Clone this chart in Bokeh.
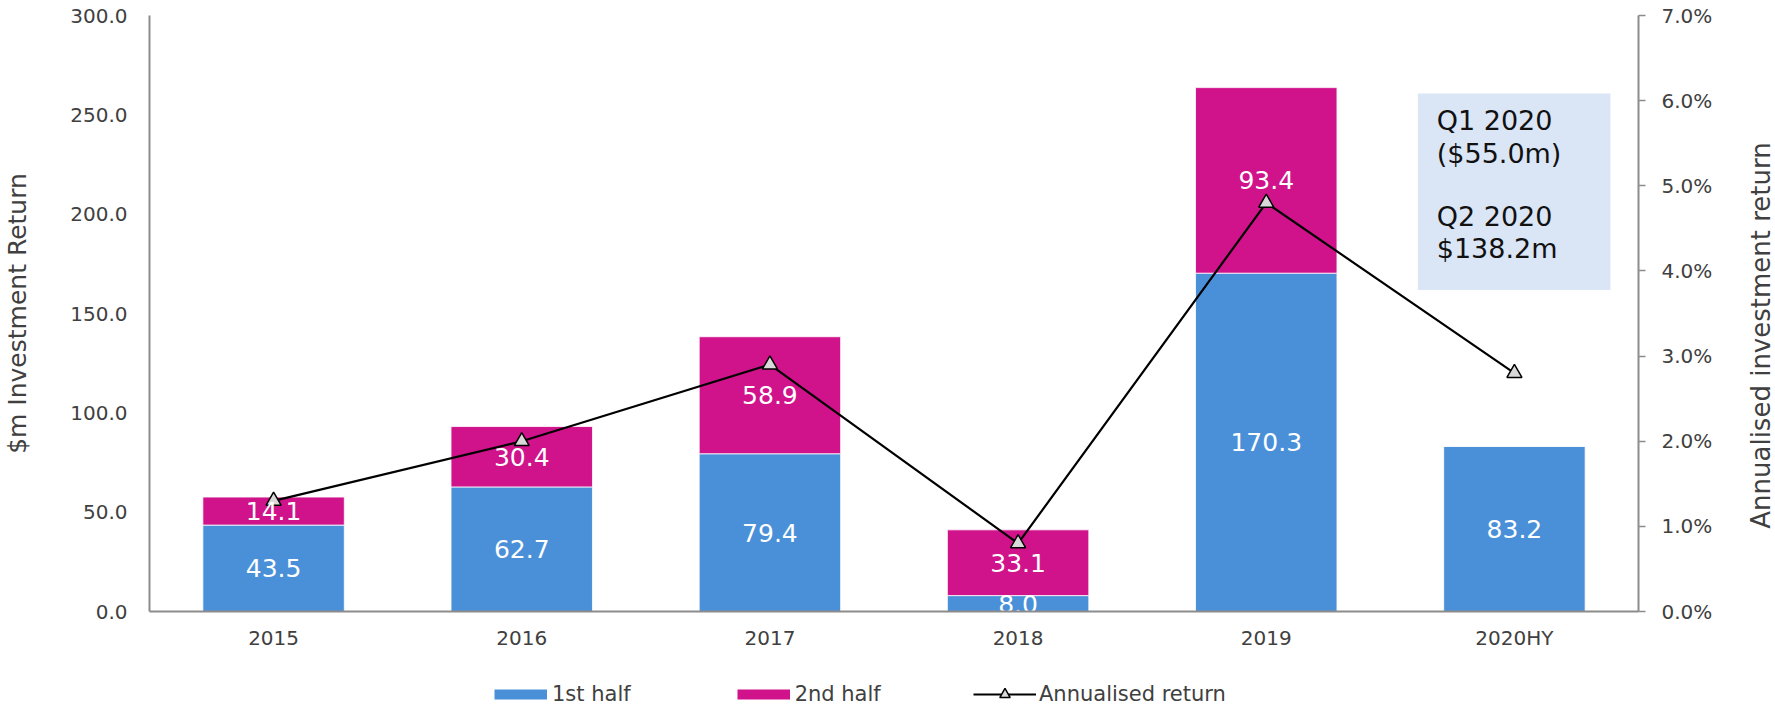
import math
from bokeh.plotting import figure
from bokeh.layouts import column, row
from bokeh.models import (FactorRange, Range1d, LinearAxis, FixedTicker,
                          NumeralTickFormatter, ColumnDataSource, Legend,
                          LegendItem, BoxAnnotation, Label)
from bokeh.core.properties import value
from bokeh.embed import file_html
from bokeh.resources import INLINE

# ---------------- data ----------------
years = ["2015", "2016", "2017", "2018", "2019", "2020HY"]
first_half = [43.5, 62.7, 79.4, 8.0, 170.3, 83.2]
second_half = [14.1, 30.4, 58.9, 33.1, 93.4, 0.0]
annualised_return = [0.013, 0.020, 0.029, 0.008, 0.048, 0.028]
series_names = ["1st half", "2nd half"]
line_name = "Annualised return"
left_title = "$m Investment Return"
right_title = "Annualised investment return"
left_ticks = [0, 50, 100, 150, 200, 250, 300]
right_ticks = [0.0, 0.01, 0.02, 0.03, 0.04, 0.05, 0.06, 0.07]
note_lines = ["Q1 2020", "($55.0m)", "Q2 2020", "$138.2m"]

# ---------------- style ----------------
FONT = "DejaVu Sans"
BLUE = "#4A90D9"
MAGENTA = "#D0128B"
AXIS_GRAY = "#8C8C8C"
TEXT_GRAY = "#404040"
MARK_FILL = "#D9D9D9"
W = 1775
PW = 1745          # main plot width
PH = 652           # main plot height


def bare(fig):
    fig.outline_line_color = None
    fig.xgrid.grid_line_color = None
    fig.ygrid.grid_line_color = None


p = figure(x_range=FactorRange(*years, range_padding=0),
           y_range=Range1d(0, 300),
           width=PW, height=PH,
           output_backend="svg", toolbar_location=None,
           min_border_left=147, min_border_right=PW - 1638,
           min_border_top=15, min_border_bottom=40)
p.extra_y_ranges = {"pct": Range1d(0, 0.07)}
bare(p)

src = ColumnDataSource(dict(year=years, first=first_half, second=second_half,
                            ret=annualised_return))

bars = p.vbar_stack(["first", "second"], x="year", width=0.57,
                    color=[BLUE, MAGENTA], line_color="white", line_width=0.8,
                    source=src)

line_r = p.line(x="year", y="ret", source=src, y_range_name="pct",
                line_color="black", line_width=2.2)
mark_r = p.scatter(x="year", y="ret", source=src, y_range_name="pct",
                   marker="triangle", size=15, fill_color=MARK_FILL,
                   line_color="black", line_width=1.5)

# bar value labels (centered in each segment)
lx, ly, lt = [], [], []
for yr, f, s in zip(years, first_half, second_half):
    lx.append(yr); ly.append(f / 2.0); lt.append(f"{f:.1f}")
    if s > 0:
        lx.append(yr); ly.append(f + s / 2.0); lt.append(f"{s:.1f}")
p.text(x="x", y="y", text="t",
       source=ColumnDataSource(dict(x=lx, y=ly, t=lt)),
       text_color="white", text_font=value(FONT), text_font_size="25px",
       text_align="center", text_baseline="middle")

# note box
p.add_layout(BoxAnnotation(left=5.111, right=5.887, bottom=161.8, top=260.8,
                           fill_color="#DAE6F6", fill_alpha=1.0,
                           line_color=None, level="underlay"))
for txt, yy in zip(note_lines, [247.0, 230.5, 199.0, 182.8]):
    p.add_layout(Label(x=5.187, y=yy, text=txt, text_font=FONT,
                       text_font_size="27px", text_color="#111111",
                       text_baseline="middle", text_align="left"))

# axes
yl = p.yaxis[0]
yl.ticker = FixedTicker(ticks=left_ticks)
yl.formatter = NumeralTickFormatter(format="0.0")
yl.axis_label = left_title
yl.major_tick_out = 0
yl.major_tick_in = 0
yl.minor_tick_out = 0
yl.minor_tick_in = 0
yl.major_label_standoff = 22
yl.axis_label_standoff = 35

xa = p.xaxis[0]
xa.major_tick_out = 0
xa.major_tick_in = 0
xa.major_label_standoff = 14

yr_ax = LinearAxis(y_range_name="pct", ticker=FixedTicker(ticks=right_ticks),
                   formatter=NumeralTickFormatter(format="0.0%"))
yr_ax.major_tick_out = 7
yr_ax.major_tick_in = 0
yr_ax.minor_tick_out = 0
yr_ax.minor_tick_in = 0
yr_ax.major_label_standoff = 16
p.add_layout(yr_ax, "right")

for ax in [yl, xa, yr_ax]:
    ax.axis_line_color = AXIS_GRAY
    ax.axis_line_width = 2
    ax.major_tick_line_color = AXIS_GRAY
    ax.major_tick_line_width = 1.5
    ax.major_label_text_font = FONT
    ax.major_label_text_font_size = "20px"
    ax.major_label_text_color = TEXT_GRAY
    ax.axis_label_text_font = FONT
    ax.axis_label_text_font_size = "25px"
    ax.axis_label_text_font_style = "normal"
    ax.axis_label_text_color = TEXT_GRAY

# ---------------- right title strip ----------------
tf = figure(width=W - PW, height=PH, x_range=Range1d(0, 1), y_range=Range1d(0, 1),
            output_backend="svg", toolbar_location=None,
            x_axis_location=None, y_axis_location=None,
            min_border_left=0, min_border_right=0,
            min_border_top=0, min_border_bottom=0)
bare(tf)
tf.add_layout(Label(x=15, y=PH - 376, x_units="screen", y_units="screen",
                    text=right_title, angle=math.pi / 2,
                    text_font=FONT, text_font_size="26px",
                    text_color=TEXT_GRAY, text_align="center",
                    text_baseline="middle"))

# ---------------- legend strip ----------------
lf = figure(width=W, height=56, x_range=Range1d(0, 1), y_range=Range1d(0, 1),
            output_backend="svg", toolbar_location=None,
            x_axis_location=None, y_axis_location=None,
            min_border_left=0, min_border_right=0,
            min_border_top=0, min_border_bottom=0)
bare(lf)

off = dict(x=[-5], y=[-5])
k1 = lf.line(x="x", y="y", source=ColumnDataSource(off),
             line_color=BLUE, line_width=10)
k2 = lf.line(x="x", y="y", source=ColumnDataSource(off),
             line_color=MAGENTA, line_width=10)
k3 = lf.line(x="x", y="y", source=ColumnDataSource(off),
             line_color="black", line_width=2.2)
k4 = lf.scatter(x="x", y="y", source=ColumnDataSource(off),
                marker="triangle", fill_color=MARK_FILL,
                line_color="black", line_width=1.5)

common = dict(orientation="horizontal", padding=0, margin=0,
              border_line_color=None, background_fill_alpha=0,
              label_text_font=FONT, label_text_font_size="21px",
              label_text_color=TEXT_GRAY, glyph_height=26)
leg1 = Legend(items=[LegendItem(label=series_names[0], renderers=[k1]),
                     LegendItem(label=series_names[1], renderers=[k2])],
              location=(494, 1), glyph_width=53, spacing=106,
              label_standoff=5, **common)
leg2 = Legend(items=[LegendItem(label=line_name, renderers=[k3, k4])],
              location=(973, 1), glyph_width=63, label_standoff=3, **common)
lf.add_layout(leg1)
lf.add_layout(leg2)

layout = column(row(p, tf, spacing=0), lf, spacing=0)
open("out.html", "w").write(file_html(layout, INLINE))
